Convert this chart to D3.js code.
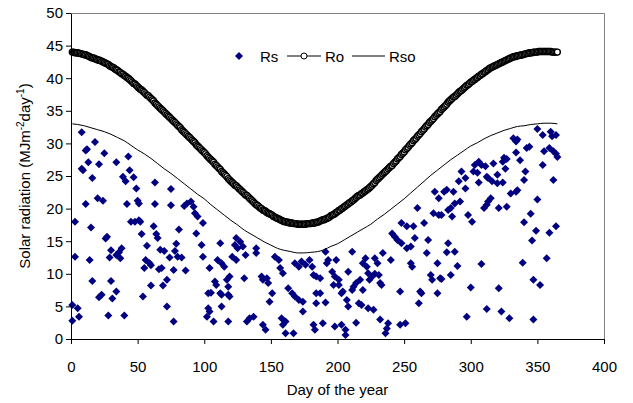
<!DOCTYPE html>
<html>
<head>
<meta charset="utf-8">
<script src="https://cdn.jsdelivr.net/npm/d3@7"></script>
<style>
body { margin: 0; background: #fff; }
svg { font-family: Arial, "Liberation Sans", sans-serif; }
</style>
</head>
<body>
<script>
// Ro, extraterrestrial radiation, one value per day (day 1 .. 365)
var roValues = [
44.0,44.0,43.9,43.9,43.9,43.8,43.8,43.7,43.7,43.6,43.6,43.5,43.4,43.3,43.2,
43.1,43.1,43.0,42.9,42.8,42.8,42.7,42.6,42.5,42.4,42.3,42.2,42.1,41.9,41.8,
41.7,41.6,41.4,41.3,41.2,41.0,40.9,40.7,40.6,40.4,40.3,40.1,40.0,39.8,39.6,
39.4,39.2,39.1,38.9,38.7,38.5,38.3,38.2,38.0,37.8,37.6,37.4,37.3,37.1,36.9,
36.7,36.5,36.2,36.0,35.8,35.6,35.4,35.2,35.0,34.8,34.6,34.4,34.2,34.0,33.8,
33.6,33.4,33.2,33.0,32.8,32.6,32.4,32.1,31.9,31.7,31.5,31.3,31.1,30.9,30.7,
30.5,30.3,30.1,29.8,29.6,29.4,29.2,29.0,28.8,28.6,28.4,28.1,27.9,27.7,27.5,
27.3,27.1,26.8,26.6,26.4,26.2,26.0,25.7,25.5,25.3,25.1,24.9,24.6,24.4,24.2,
24.0,23.8,23.6,23.5,23.3,23.1,22.9,22.7,22.5,22.3,22.1,22.0,21.8,21.6,21.4,
21.2,21.0,20.8,20.6,20.5,20.3,20.1,20.0,19.8,19.7,19.6,19.4,19.3,19.2,19.1,
19.0,18.8,18.7,18.6,18.5,18.4,18.3,18.2,18.1,18.0,18.0,17.9,17.9,17.8,17.8,
17.8,17.7,17.7,17.7,17.6,17.6,17.6,17.6,17.6,17.6,17.6,17.7,17.7,17.7,17.7,
17.8,17.8,17.8,17.9,17.9,18.0,18.1,18.2,18.3,18.3,18.4,18.5,18.6,18.7,18.9,
19.0,19.1,19.2,19.4,19.5,19.7,19.8,20.0,20.1,20.3,20.4,20.6,20.7,20.9,21.0,
21.2,21.3,21.5,21.7,21.9,22.0,22.1,22.3,22.4,22.6,22.7,22.9,23.0,23.2,23.4,
23.6,23.8,24.0,24.3,24.5,24.7,24.9,25.1,25.3,25.5,25.7,25.9,26.1,26.3,26.5,
26.6,26.9,27.1,27.3,27.6,27.8,28.0,28.3,28.5,28.7,29.0,29.2,29.4,29.7,29.9,
30.1,30.4,30.6,30.8,31.1,31.3,31.5,31.8,32.0,32.2,32.5,32.7,32.9,33.2,33.4,
33.6,33.8,34.1,34.3,34.5,34.7,34.9,35.2,35.4,35.6,35.8,36.0,36.3,36.5,36.7,
36.9,37.1,37.2,37.4,37.6,37.8,38.0,38.1,38.3,38.5,38.7,38.9,39.0,39.2,39.4,
39.5,39.7,39.8,40.0,40.1,40.3,40.4,40.6,40.7,40.9,41.0,41.2,41.3,41.5,41.6,
41.7,41.8,41.9,42.0,42.1,42.2,42.3,42.4,42.5,42.6,42.7,42.8,42.9,43.0,43.1,
43.2,43.3,43.3,43.4,43.4,43.5,43.5,43.6,43.6,43.7,43.7,43.8,43.8,43.9,43.9,
43.9,44.0,44.0,44.0,44.0,44.1,44.1,44.1,44.1,44.1,
44.1,44.1,44.1,44.1,44.1,44.0,44.0,44.0,44.0,44.0];

// Rso, clear-sky radiation
var rsoDays = [1,5,10,15,20,25,30,35,40,45,50,55,60,65,70,75,80,85,90,95,100,
  105,110,115,120,125,130,135,140,145,150,155,160,165,170,175,180,185,190,195,200,
  205,210,215,220,225,230,235,240,245,250,255,260,265,270,275,280,285,290,295,300,
  305,310,315,320,325,330,335,340,345,350,355,360,365];
var rsoValues = [33.0,32.9,32.7,32.4,32.1,31.8,31.4,30.9,30.4,29.7,29.0,28.4,27.7,26.9,26.1,
  25.4,24.6,23.8,23.0,22.2,21.5,20.6,19.8,19.0,18.2,17.5,16.7,16.1,15.5,14.9,14.4,
  13.9,13.6,13.4,13.2,13.2,13.3,13.4,13.7,14.2,14.6,15.2,15.8,16.4,17.0,17.6,18.4,
  19.1,19.9,20.7,21.5,22.4,23.3,24.2,25.1,25.9,26.7,27.5,28.2,28.9,29.6,30.1,30.7,
  31.2,31.6,32.0,32.3,32.6,32.7,32.9,33.0,33.1,33.1,33.0];

// Rs, measured radiation [day, value]
var rsPoints = [
[8,31.7],[18,30.2],[11,28.9],[12,29.1],[25,28.5],[43,28.0],[13,27.1],[21,26.8],[34,27.1],[8,26.1],
[9,25.9],[44,25.9],[16,24.7],[39,24.9],[41,24.2],[47,24.8],[49,23.1],[63,24.0],[75,23.0],[20,21.6],
[24,21.2],[50,21.2],[51,20.8],[11,20.7],[42,20.7],[63,20.7],[75,20.5],[85,20.4],[87,20.8],[3,18.0],
[45,18.0],[48,18.0],[51,18.2],[52,18.0],[62,17.3],[81,16.8],[15,17.1],[53,16.1],[64,16.1],[65,15.5],
[27,15.7],[26,15.4],[79,14.6],[57,14.3],[67,13.7],[70,13.5],[30,13.6],[38,13.9],[36,13.3],[78,13.5],
[80,12.6],[83,12.5],[74,12.5],[3,12.6],[14,12.1],[29,12.5],[34,12.9],[37,12.4],[56,12.1],[59,11.6],
[60,11.3],[55,10.9],[66,10.7],[68,10.9],[77,10.6],[86,10.5],[16,8.9],[30,8.9],[72,9.1],[60,8.2],
[69,8.2],[34,7.3],[31,6.2],[23,6.8],[21,6.4],[54,6.5],[1,5.2],[5,4.7],[72,5.0],[6,3.4],
[28,3.6],[40,3.6],[1,2.8],[77,2.7],
[90,21.1],[92,20.3],[93,19.3],[95,18.8],[99,17.8],[94,16.2],[98,14.4],[112,14.7],[124,15.5],[127,14.9],
[123,14.4],[125,13.9],[129,14.2],[131,12.9],[121,12.6],[124,12.1],[139,13.9],[139,13.2],[99,12.6],[110,12.1],
[113,11.6],[115,11.1],[104,10.9],[153,12.6],[156,12.1],[157,10.9],[159,10.1],[168,11.6],[171,11.1],[173,11.9],
[176,11.4],[179,12.1],[181,11.1],[130,9.3],[143,9.6],[144,9.1],[147,9.3],[148,8.6],[108,8.8],[109,8.3],
[119,9.6],[117,9.1],[118,8.0],[103,7.0],[105,7.1],[112,7.0],[113,6.8],[118,6.8],[119,6.5],[151,7.0],
[163,7.8],[166,7.0],[168,6.5],[171,6.0],[174,5.7],[103,4.7],[104,4.2],[102,3.4],[113,5.0],[149,5.7],
[134,3.2],[137,3.4],[132,2.7],[118,2.7],[107,2.7],[144,2.2],[146,1.4],[158,3.2],[161,2.7],[159,2.2],
[161,0.9],[167,0.9],[174,4.2],
[191,13.4],[193,12.1],[192,11.6],[199,12.1],[211,13.4],[221,12.4],[219,11.6],[222,11.1],[228,12.4],[230,11.6],
[234,13.2],[240,12.1],[241,16.2],[243,15.7],[245,15.2],[248,14.7],[252,13.9],[255,14.2],[255,11.6],[256,11.1],
[248,17.8],[252,17.3],[257,17.3],[258,15.5],[260,20.1],[265,17.8],[268,15.2],[267,13.2],[273,22.6],[276,21.6],
[272,19.3],[276,19.0],[275,11.6],[270,9.8],[271,9.1],[262,7.3],[261,5.5],[263,7.0],[275,7.0],[182,9.8],
[184,9.6],[187,9.3],[196,10.3],[198,9.6],[201,9.1],[197,8.3],[201,8.3],[208,10.3],[223,10.1],[226,9.6],
[224,9.1],[228,10.0],[231,9.8],[232,8.6],[233,8.3],[217,9.1],[214,8.6],[212,8.0],[211,7.5],[204,7.3],
[203,7.0],[219,7.5],[184,7.0],[187,7.0],[184,5.5],[191,5.6],[207,6.0],[208,5.0],[216,5.5],[218,5.2],
[223,4.7],[227,4.5],[247,7.3],[182,2.2],[183,1.4],[189,2.4],[198,1.9],[203,2.2],[206,1.4],[206,0.6],
[214,2.5],[232,3.0],[238,2.4],[237,1.6],[236,0.9],[247,2.2],[251,2.4],
[350,32.2],[354,31.3],[360,31.8],[361,31.1],[364,31.3],[332,30.8],[335,30.6],[334,30.3],[342,29.3],[344,29.5],
[355,28.8],[359,29.3],[362,28.8],[364,28.4],[365,27.9],[334,28.6],[325,27.8],[327,27.6],[324,27.2],[337,27.4],
[306,27.2],[303,26.7],[308,26.7],[302,25.7],[305,25.5],[311,26.5],[317,26.9],[354,26.7],[326,26.1],[312,24.9],
[320,25.2],[324,24.0],[341,25.7],[340,24.4],[362,24.4],[293,25.7],[296,24.7],[291,24.2],[296,23.1],[306,24.0],
[313,24.7],[316,24.2],[320,23.9],[282,22.9],[280,22.6],[287,22.6],[330,22.3],[334,22.6],[335,22.8],[350,21.4],
[315,21.6],[313,21.1],[312,20.6],[292,21.1],[288,20.8],[285,20.1],[283,19.8],[286,18.8],[278,19.0],[310,20.1],
[321,20.1],[327,20.3],[298,19.0],[301,18.0],[345,19.2],[340,17.9],[349,16.6],[346,15.1],[364,17.3],[359,16.3],
[283,14.7],[282,13.3],[288,13.4],[290,11.2],[308,11.5],[339,11.7],[357,12.4],[285,9.8],[278,9.2],[277,9.3],
[347,9.1],[352,8.3],[300,7.9],[321,7.8],[297,3.4],[312,4.6],[323,4.2],[329,3.2],[347,3.0]];

var xTicks = [0, 50, 100, 150, 200, 250, 300, 350, 400];
var yTicks = [0, 5, 10, 15, 20, 25, 30, 35, 40, 45, 50];

var navy = "#000080";

// Set the dimensions of the canvas / graph
var margin = {top: 13, right: 29, bottom: 64, left: 71},
    width = 633 - margin.left - margin.right,
    height = 403 - margin.top - margin.bottom;

var x = d3.scaleLinear().domain([0, 400]).range([0, width]);
var y = d3.scaleLinear().domain([0, 50]).range([height, 0]);

var svg = d3.select("body")
    .append("svg")
        .attr("width", 633)
        .attr("height", 403)
    .append("g")
        .attr("transform", "translate(" + margin.left + "," + margin.top + ")");

// grey frame on the top and right
svg.append("path")
    .attr("d", "M0.5,0.5H" + (width + 0.5) + "V" + (height + 0.5))
    .attr("fill", "none")
    .attr("stroke", "#808080");

// Rs diamonds
var diamond = d3.symbol().type(d3.symbolSquare).size(32);
svg.append("g").selectAll("path")
    .data(rsPoints)
    .enter().append("path")
        .attr("d", diamond)
        .attr("transform", function(d) { return "translate(" + x(d[0]) + "," + y(d[1]) + ") rotate(45)"; })
        .attr("fill", navy);

// Ro line with circles
var roLine = d3.line()
    .x(function(d, i) { return x(i + 1); })
    .y(function(d) { return y(d); });

svg.append("path")
    .attr("d", roLine(roValues))
    .attr("fill", "none")
    .attr("stroke", "#000")
    .attr("stroke-width", 1);

svg.append("g").selectAll("circle")
    .data(roValues)
    .enter().append("circle")
        .attr("cx", function(d, i) { return x(i + 1); })
        .attr("cy", function(d) { return y(d); })
        .attr("r", 3)
        .attr("fill", "#fff")
        .attr("stroke", "#000")
        .attr("stroke-width", 1.4);

// Rso line
var rsoLine = d3.line()
    .x(function(d) { return x(d); })
    .y(function(d, i) { return y(rsoValues[i]); })
    .curve(d3.curveMonotoneX);

svg.append("path")
    .attr("d", rsoLine(rsoDays))
    .attr("fill", "none")
    .attr("stroke", "#000")
    .attr("stroke-width", 1);

// Axes
var xAxis = d3.axisBottom(x).tickValues(xTicks).tickSizeInner(5).tickSizeOuter(0).tickPadding(17);
var yAxis = d3.axisLeft(y).tickValues(yTicks).tickSizeInner(5).tickSizeOuter(0).tickPadding(3);

svg.append("g")
    .attr("transform", "translate(0," + height + ")")
    .call(xAxis);

svg.append("g")
    .call(yAxis);

svg.selectAll(".tick text")
    .attr("font-size", 15)
    .attr("font-family", "Arial, 'Liberation Sans', sans-serif")
    .attr("fill", "#000");
svg.selectAll(".domain, .tick line").attr("stroke", "#000");

// axis titles
svg.append("text")
    .attr("x", width / 2)
    .attr("y", height + 56)
    .attr("text-anchor", "middle")
    .attr("font-size", 15)
    .text("Day of the year");

var yTitle = svg.append("text")
    .attr("transform", "translate(" + (25 - margin.left) + "," + (176 - margin.top) + ") rotate(-90)")
    .attr("text-anchor", "middle")
    .attr("dy", "0.35em")
    .attr("font-size", 15);
yTitle.append("tspan").text("Solar radiation (MJm");
yTitle.append("tspan").attr("dy", -6).attr("font-size", 10).text("-2");
yTitle.append("tspan").attr("dy", 6).text("day");
yTitle.append("tspan").attr("dy", -6).attr("font-size", 10).text("-1");
yTitle.append("tspan").attr("dy", 6).text(")");

// legend
var legend = svg.append("g")
    .attr("transform", "translate(" + (-margin.left) + "," + (-margin.top) + ")");

legend.append("path")
    .attr("d", diamond)
    .attr("transform", "translate(239,56) rotate(45)")
    .attr("fill", navy);
legend.append("text").attr("x", 260).attr("y", 61.5).attr("font-size", 15).text("Rs");

legend.append("line")
    .attr("x1", 287).attr("x2", 321).attr("y1", 56).attr("y2", 56)
    .attr("stroke", "#000");
legend.append("circle")
    .attr("cx", 304).attr("cy", 56).attr("r", 3)
    .attr("fill", "#fff").attr("stroke", "#000").attr("stroke-width", 1);
legend.append("text").attr("x", 325).attr("y", 61.5).attr("font-size", 15).text("Ro");

legend.append("line")
    .attr("x1", 352).attr("x2", 385).attr("y1", 56).attr("y2", 56)
    .attr("stroke", "#000");
legend.append("text").attr("x", 389).attr("y", 61.5).attr("font-size", 15).text("Rso");
</script>
</body>
</html>
